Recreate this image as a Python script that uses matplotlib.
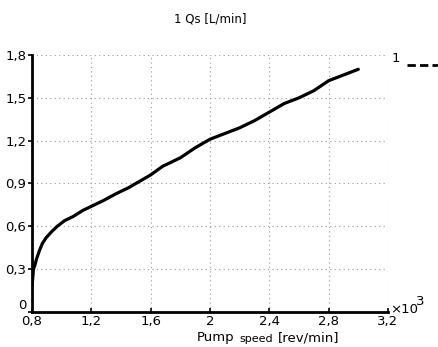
import matplotlib
matplotlib.use("Agg")
import matplotlib.pyplot as plt

# pump speed [x10^3 rev/min] and flow Qs [L/min]
speed = [0.80, 0.805, 0.81, 0.82, 0.83, 0.85, 0.87, 0.895, 0.93, 0.97,
         1.02, 1.08, 1.14, 1.20, 1.28, 1.37, 1.45, 1.50, 1.60, 1.68,
         1.80, 1.90, 2.00, 2.10, 2.20, 2.30, 2.40, 2.50, 2.60, 2.70,
         2.80, 2.90, 3.00]
qs = [0.18, 0.24, 0.30, 0.33, 0.37, 0.43, 0.48, 0.52, 0.56, 0.60,
      0.64, 0.67, 0.71, 0.74, 0.78, 0.83, 0.87, 0.90, 0.96, 1.02,
      1.08, 1.15, 1.21, 1.25, 1.29, 1.34, 1.40, 1.46, 1.50, 1.55,
      1.62, 1.66, 1.70]

xticks = [0.8, 1.2, 1.6, 2.0, 2.4, 2.8, 3.2]
xlabels = ["0,8", "1,2", "1,6", "2", "2,4", "2,8", "3,2"]
yticks = [0, 0.3, 0.6, 0.9, 1.2, 1.5, 1.8]
ylabels = ["0", "0,3", "0,6", "0,9", "1,2", "1,5", "1,8"]

plt.rcParams["font.family"] = "DejaVu Sans"

fig = plt.figure(figsize=(4.39, 3.47), dpi=100)
ax = fig.add_axes([0.0729, 0.1009, 0.8109, 0.7406])

ax.plot(speed, qs, color="black", linewidth=2.3, solid_capstyle="round")

ax.set_xlim(0.8, 3.2)
ax.set_ylim(0, 1.8)
ax.set_xticks(xticks)
ax.set_xticklabels(xlabels)
ax.set_yticks(yticks)
ax.set_yticklabels(ylabels)
ax.tick_params(labelsize=9.5, width=1.2, length=3, pad=1)
ax.tick_params(axis="x", direction="in", pad=2)
ax.grid(True, color="#999999", linestyle=(0, (1, 3)), linewidth=0.8)
# the "0" sits just above the x axis so it clears "0,8"
ax.get_yticklabels()[0].set_verticalalignment("bottom")

for side in ["top", "right"]:
    ax.spines[side].set_visible(False)
for side in ["left", "bottom"]:
    ax.spines[side].set_linewidth(2)

fig.text(0.478, 0.945, "1 Qs [L/min]", ha="center", va="center", fontsize=8.5)

# legend entry on the right
fig.text(0.902, 0.83, "1", ha="center", va="center", fontsize=9.5)
fig.add_artist(plt.Line2D([0.928, 1.0], [0.813, 0.813], color="black",
                          linewidth=2, linestyle=(0, (3, 1.5))))

# multiplier
fig.text(0.888, 0.109, "\u00d710", ha="left", va="center", fontsize=9.5)
fig.text(0.948, 0.13, "3", ha="left", va="center", fontsize=9.5)

# axis title with small "speed"
fig.text(0.449, 0.027, "Pump", ha="left", va="center", fontsize=9.5)
fig.text(0.545, 0.023, "speed", ha="left", va="center", fontsize=8)
fig.text(0.632, 0.027, "[rev/min]", ha="left", va="center", fontsize=9.5)

fig.savefig("out.png", dpi=100, facecolor="white")
